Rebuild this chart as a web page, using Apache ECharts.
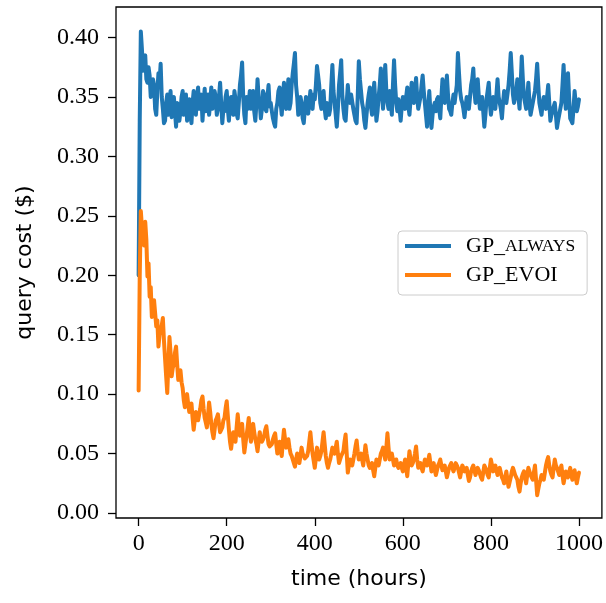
<!DOCTYPE html>
<html>
<head>
<meta charset="utf-8">
<script src="https://cdn.jsdelivr.net/npm/echarts@6/dist/echarts.min.js"></script>
<style>
html,body{margin:0;padding:0;background:#fff;}
#chart{width:606px;height:603px;}
</style>
</head>
<body>
<div id="chart"></div>
<script>
// time (hours), step 2.5
const hours = [];
for (let i = 0; i <= 400; i++) hours.push(i * 2.5);

const gpAlways = [
0.200,0.330,0.405,0.390,0.372,0.380,0.385,0.365,0.362,0.375,
0.368,0.350,0.352,0.365,0.360,0.340,0.335,0.355,0.370,0.362,
0.378,0.350,0.340,0.328,0.330,0.345,0.352,0.335,0.345,0.355,
0.333,0.348,0.350,0.338,0.325,0.345,0.342,0.330,0.338,0.350,
0.355,0.335,0.345,0.352,0.330,0.340,0.348,0.335,0.328,0.345,
0.355,0.342,0.335,0.350,0.358,0.340,0.340,0.352,0.330,0.345,
0.357,0.338,0.345,0.352,0.335,0.345,0.358,0.340,0.342,0.355,
0.350,0.335,0.340,0.350,0.362,0.345,0.328,0.340,0.338,0.350,
0.355,0.340,0.330,0.345,0.350,0.338,0.335,0.355,0.348,0.336,
0.332,0.345,0.360,0.368,0.379,0.350,0.335,0.328,0.350,0.340,
0.345,0.355,0.340,0.348,0.355,0.338,0.330,0.345,0.365,0.350,
0.345,0.332,0.340,0.355,0.352,0.340,0.338,0.350,0.360,0.342,
0.345,0.338,0.332,0.328,0.325,0.340,0.345,0.355,0.358,0.345,
0.335,0.350,0.362,0.345,0.340,0.352,0.365,0.340,0.345,0.360,
0.370,0.378,0.387,0.360,0.350,0.335,0.338,0.350,0.345,0.332,
0.328,0.340,0.350,0.342,0.336,0.345,0.355,0.345,0.340,0.352,
0.348,0.360,0.376,0.368,0.360,0.345,0.340,0.350,0.355,0.340,
0.332,0.345,0.345,0.335,0.340,0.360,0.377,0.355,0.345,0.335,
0.325,0.340,0.360,0.370,0.381,0.352,0.340,0.332,0.330,0.345,
0.360,0.348,0.345,0.352,0.352,0.340,0.335,0.330,0.328,0.350,
0.380,0.365,0.355,0.345,0.340,0.330,0.324,0.335,0.345,0.352,
0.358,0.342,0.335,0.350,0.362,0.345,0.330,0.338,0.350,0.360,
0.374,0.352,0.340,0.360,0.377,0.355,0.345,0.340,0.355,0.345,
0.335,0.360,0.381,0.360,0.345,0.338,0.348,0.340,0.330,0.342,
0.350,0.345,0.340,0.350,0.358,0.342,0.335,0.348,0.362,0.350,
0.345,0.355,0.366,0.350,0.340,0.345,0.350,0.360,0.368,0.355,
0.345,0.335,0.325,0.340,0.355,0.338,0.324,0.335,0.342,0.345,
0.338,0.348,0.350,0.340,0.332,0.350,0.365,0.355,0.345,0.352,
0.368,0.352,0.340,0.338,0.335,0.345,0.352,0.345,0.345,0.360,
0.387,0.370,0.355,0.348,0.345,0.340,0.333,0.342,0.350,0.345,
0.340,0.350,0.360,0.365,0.374,0.355,0.345,0.352,0.365,0.350,
0.340,0.345,0.350,0.338,0.325,0.335,0.348,0.355,0.362,0.345,
0.335,0.342,0.350,0.345,0.340,0.352,0.365,0.350,0.345,0.340,
0.332,0.345,0.355,0.350,0.345,0.352,0.360,0.372,0.387,0.370,
0.352,0.345,0.345,0.355,0.365,0.350,0.340,0.360,0.384,0.365,
0.350,0.345,0.340,0.350,0.362,0.345,0.335,0.340,0.345,0.350,
0.355,0.365,0.378,0.360,0.345,0.340,0.335,0.345,0.350,0.345,
0.340,0.350,0.360,0.345,0.330,0.335,0.338,0.342,0.345,0.335,
0.324,0.330,0.335,0.340,0.345,0.360,0.377,0.355,0.340,0.355,
0.370,0.350,0.332,0.330,0.328,0.340,0.355,0.345,0.338,0.342,
0.348
];

const gpEvoi = [
0.103,0.200,0.254,0.240,0.235,0.225,0.245,0.230,0.199,0.210,
0.182,0.190,0.165,0.172,0.179,0.168,0.157,0.162,0.140,0.150,
0.150,0.158,0.164,0.145,0.130,0.115,0.101,0.125,0.148,0.135,
0.115,0.122,0.125,0.135,0.140,0.125,0.112,0.118,0.120,0.110,
0.105,0.095,0.089,0.095,0.100,0.092,0.085,0.090,0.092,0.080,
0.070,0.078,0.085,0.082,0.078,0.083,0.088,0.095,0.098,0.088,
0.080,0.076,0.072,0.082,0.093,0.085,0.075,0.068,0.063,0.070,
0.078,0.080,0.083,0.075,0.068,0.070,0.072,0.078,0.080,0.088,
0.094,0.082,0.070,0.060,0.054,0.062,0.068,0.064,0.060,0.072,
0.083,0.072,0.065,0.070,0.075,0.062,0.051,0.058,0.065,0.072,
0.080,0.068,0.060,0.068,0.075,0.068,0.062,0.058,0.052,0.060,
0.068,0.062,0.060,0.062,0.065,0.070,0.073,0.065,0.058,0.056,
0.055,0.058,0.062,0.065,0.067,0.058,0.050,0.055,0.060,0.052,
0.048,0.060,0.070,0.062,0.055,0.058,0.062,0.055,0.050,0.048,
0.045,0.042,0.039,0.045,0.050,0.046,0.042,0.048,0.055,0.050,
0.048,0.046,0.045,0.048,0.052,0.060,0.068,0.058,0.050,0.044,
0.038,0.046,0.055,0.050,0.045,0.048,0.052,0.060,0.068,0.058,
0.048,0.042,0.038,0.042,0.045,0.050,0.055,0.052,0.050,0.055,
0.060,0.050,0.042,0.045,0.048,0.050,0.052,0.060,0.066,0.050,
0.034,0.040,0.045,0.042,0.040,0.045,0.050,0.056,0.061,0.052,
0.045,0.048,0.050,0.045,0.040,0.048,0.057,0.050,0.045,0.040,
0.038,0.040,0.042,0.036,0.031,0.038,0.045,0.042,0.040,0.045,
0.050,0.052,0.055,0.050,0.045,0.055,0.067,0.055,0.045,0.048,
0.050,0.045,0.040,0.042,0.045,0.040,0.038,0.040,0.042,0.038,
0.035,0.040,0.045,0.038,0.031,0.042,0.052,0.045,0.040,0.042,
0.045,0.050,0.056,0.045,0.038,0.040,0.042,0.038,0.035,0.040,
0.045,0.042,0.040,0.044,0.049,0.042,0.035,0.038,0.042,0.036,
0.032,0.036,0.040,0.042,0.045,0.040,0.036,0.038,0.040,0.035,
0.030,0.034,0.038,0.040,0.042,0.038,0.035,0.038,0.042,0.040,
0.038,0.034,0.030,0.035,0.040,0.038,0.035,0.036,0.038,0.032,
0.027,0.030,0.035,0.038,0.040,0.036,0.032,0.035,0.038,0.036,
0.035,0.030,0.028,0.034,0.040,0.038,0.036,0.032,0.030,0.038,
0.045,0.040,0.035,0.038,0.040,0.036,0.032,0.035,0.038,0.034,
0.030,0.028,0.025,0.030,0.035,0.028,0.022,0.026,0.030,0.035,
0.038,0.035,0.032,0.030,0.028,0.022,0.018,0.025,0.030,0.033,
0.035,0.030,0.025,0.032,0.038,0.035,0.032,0.030,0.028,0.034,
0.040,0.028,0.015,0.020,0.025,0.028,0.032,0.030,0.028,0.034,
0.040,0.044,0.047,0.040,0.035,0.032,0.030,0.038,0.045,0.040,
0.038,0.035,0.032,0.036,0.040,0.032,0.025,0.030,0.035,0.032,
0.030,0.034,0.038,0.032,0.028,0.032,0.036,0.030,0.025,0.030,
0.034
];

const xTicks = [0, 200, 400, 600, 800, 1000];
const yTicks = [0, 0.05, 0.10, 0.15, 0.20, 0.25, 0.30, 0.35, 0.40];

const chart = echarts.init(document.getElementById('chart'), null, {renderer: 'canvas'});
const serif = '"Liberation Serif", "DejaVu Serif", serif';
const sans = '"DejaVu Sans", sans-serif';

chart.setOption({
  animation: false,
  backgroundColor: '#fff',
  grid: {
    left: 116, right: 3.5, top: 7, bottom: 85,
    show: true, borderColor: '#000', borderWidth: 1.3, backgroundColor: 'transparent',
    containLabel: false
  },
  legend: {
    orient: 'vertical',
    left: 398, top: 231,
    backgroundColor: '#fff',
    borderColor: '#cccccc', borderWidth: 1, borderRadius: 4,
    padding: [4, 12, 9, 7],
    itemWidth: 46, itemHeight: 4, itemGap: 7,
    icon: 'rect',
    data: ['GP_ALWAYS', 'GP_EVOI'],
    formatter: function (name) {
      return name === 'GP_ALWAYS' ? '{a|GP_}{b|ALWAYS}' : '{a|GP_EVOI}';
    },
    textStyle: {
      padding: [0, 0, 0, 10],
      lineHeight: 22,
      rich: {
        a: {fontFamily: serif, fontSize: 22, color: '#000', lineHeight: 22},
        b: {fontFamily: serif, fontSize: 17.5, color: '#000', lineHeight: 22}
      }
    }
  },
  xAxis: {
    type: 'value',
    min: -51.4, max: 1052,
    name: 'time (hours)',
    nameLocation: 'middle',
    nameGap: 50,
    nameTextStyle: {fontFamily: sans, fontSize: 22, color: '#000'},
    axisLine: {show: false, onZero: false},
    splitLine: {show: false},
    axisTick: {show: true, length: 8, inside: false, customValues: xTicks, lineStyle: {color: '#000', width: 1.3}},
    axisLabel: {
      customValues: xTicks, margin: 14,
      fontFamily: serif, fontSize: 24, color: '#000',
      formatter: v => String(v)
    }
  },
  yAxis: {
    type: 'value',
    min: -0.0042, max: 0.4257,
    name: 'query cost ($)',
    nameLocation: 'middle',
    nameGap: 80,
    nameTextStyle: {fontFamily: sans, fontSize: 22, color: '#000'},
    axisLine: {show: false, onZero: false},
    splitLine: {show: false},
    axisTick: {show: true, length: 8, inside: false, customValues: yTicks, lineStyle: {color: '#000', width: 1.3}},
    axisLabel: {
      customValues: yTicks, margin: 17,
      fontFamily: serif, fontSize: 24, color: '#000',
      formatter: v => v.toFixed(2)
    }
  },
  series: [
    {
      name: 'GP_ALWAYS', type: 'line', showSymbol: false, symbol: 'none',
      data: hours.map((h, i) => [h, gpAlways[i]]),
      lineStyle: {color: '#1f77b4', width: 4, join: 'round', cap: 'round'},
      itemStyle: {color: '#1f77b4'}
    },
    {
      name: 'GP_EVOI', type: 'line', showSymbol: false, symbol: 'none',
      data: hours.map((h, i) => [h, gpEvoi[i]]),
      lineStyle: {color: '#ff7f0e', width: 4, join: 'round', cap: 'round'},
      itemStyle: {color: '#ff7f0e'}
    }
  ]
});
</script>
</body>
</html>
